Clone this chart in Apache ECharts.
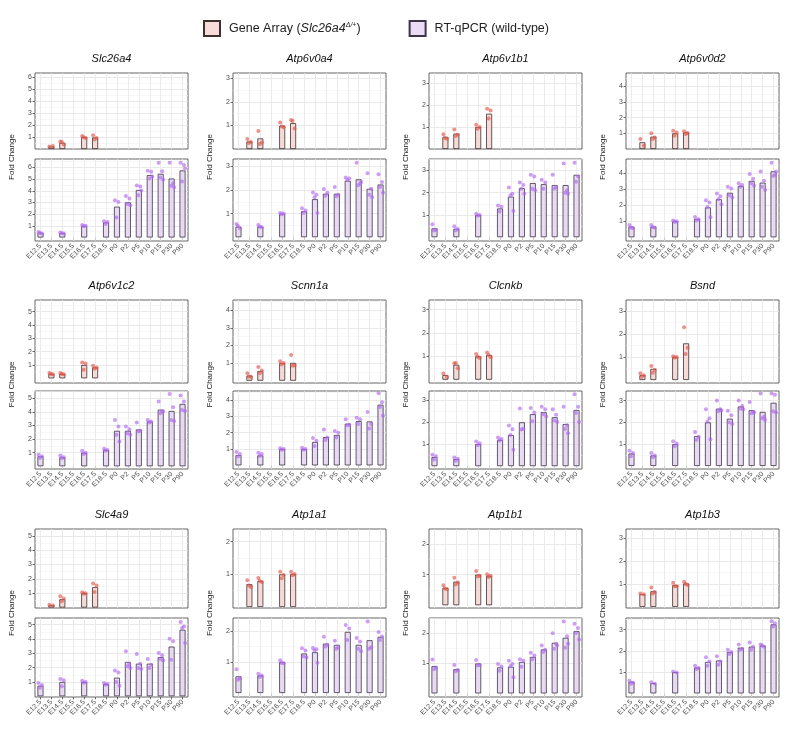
<!DOCTYPE html>
<html><head><meta charset="utf-8">
<script src="https://cdn.jsdelivr.net/npm/echarts@6/dist/echarts.min.js"></script>
<style>html,body{margin:0;padding:0;background:#fff}#c{width:787px;height:735px}</style>
</head><body><div id="c"></div><script>
// ---------- categories ----------
const categories = ['E12.5','E13.5','E14.5','E15.5','E16.5','E17.5','E18.5','P0','P2','P5','P10','P15','P30','P90'];
const gaStages = ['E13.5','E14.5','E16.5','E17.5'];
const qStages = ['E12.5','E14.5','E16.5','E18.5','P0','P2','P5','P10','P15','P30','P90'];
const geneNames = ['Slc26a4','Atp6v0a4','Atp6v1b1','Atp6v0d2','Atp6v1c2','Scnn1a','Clcnkb','Bsnd','Slc4a9','Atp1a1','Atp1b1','Atp1b3'];
// highest labelled y tick per gene
const yTickMax = [6,3,3,4,5,4,3,3,5,2,2,3];
// y-axis limits [min,max] of gene-array panel and RT-qPCR panel
const topLim = [[0,6.37],[0,3.23],[0,3.45],[0,4.85],[-0.35,5.87],[-0.13,4.58],[-0.14,3.41],[-0.13,3.47],[-0.03,5.47],[-0.03,2.39],[-0.09,2.49],[-0.05,3.4]];
const botLim = [[-0.3,6.72],[-0.16,3.31],[-0.17,3.51],[-0.23,4.87],[-0.2,5.54],[-0.22,4.55],[-0.13,3.41],[-0.14,3.44],[-0.05,5.47],[-0.13,2.43],[-0.12,2.52],[-0.17,3.55]];

// ---------- data: Gene Array (gaStages) and RT-qPCR (qStages) ----------
const Slc26a4_gaMean = [0.21,0.52,1.0,0.96];
const Slc26a4_gaPts = [[0.2,0.25],[0.63,0.38,0.58],[1.10,0.92,0.98],[1.15,0.92,0.80]];
const Slc26a4_qMean = [0.40,0.37,1.0,1.29,2.64,3.01,4.07,5.34,5.45,5.05,5.74];
const Slc26a4_qPts = [[0.48,0.34,0.38],[0.43,0.34,0.36],[1.06,1.0,0.96],[1.40,1.32,1.16],[3.18,3.04,1.72],[3.56,3.33,2.87,2.75],[4.45,4.36,3.61,4.02],[5.71,5.63,5.05,5.22],[6.40,5.68,5.14,4.94],[6.40,4.65,4.42,4.31],[6.40,6.20,4.79,5.91]];

const Atp6v0a4_gaMean = [0.32,0.45,0.99,1.10];
const Atp6v0a4_gaPts = [[0.42,0.30,0.25],[0.77,0.28,0.21],[1.13,0.92,0.96],[1.23,0.87,1.19]];
const Atp6v0a4_qMean = [0.45,0.45,1.0,1.10,1.61,1.84,1.84,2.39,2.45,2.05,2.23];
const Atp6v0a4_qPts = [[0.56,0.37,0.47],[0.52,0.42,0.44],[1.03,1.0,0.97],[1.23,1.13,1.03],[1.89,1.80,1.69,1.03],[2.04,1.88,1.76],[2.12,1.80,1.73],[2.53,2.49,2.42],[3.15,2.27,2.20,2.34],[2.71,2.05,1.80,1.69],[2.66,2.34,2.12,1.88]];

const Atp6v1b1_gaMean = [0.55,0.70,1.0,1.60];
const Atp6v1b1_gaPts = [[0.67,0.47,0.50],[0.88,0.65,0.59],[1.10,1.0,0.92],[1.83,1.75,1.38]];
const Atp6v1b1_qMean = [0.40,0.38,1.0,1.29,1.82,2.20,2.43,2.38,2.34,2.34,2.80];
const Atp6v1b1_qPts = [[0.58,0.34,0.30],[0.49,0.37,0.30],[1.05,1.0,0.96],[1.42,1.37,1.15],[2.23,1.95,1.88,1.18],[2.45,2.34,2.18,1.95],[2.80,2.72,2.18,2.11],[2.58,2.46,2.18],[2.80,2.25,2.18],[3.31,2.11,2.0,1.95],[3.34,2.72,2.49]];

const Atp6v0d2_gaMean = [0.43,0.79,1.0,1.06];
const Atp6v0d2_gaPts = [[0.64,0.21],[1.0,0.74,0.64],[1.17,1.06,0.85],[1.13,1.02,0.96]];
const Atp6v0d2_qMean = [0.66,0.66,1.0,1.14,1.86,2.37,2.77,3.19,3.51,3.40,4.10];
const Atp6v0d2_qPts = [[0.76,0.57,0.61],[0.76,0.61,0.62],[1.05,1.0,0.95],[1.27,1.12,1.04],[2.30,2.16,1.88,1.25],[2.73,2.56,2.37,2.05],[3.15,3.04,2.62,2.47],[3.36,3.26,3.15],[3.93,3.64,3.36,3.21],[4.10,3.51,3.15,2.94],[4.63,3.89,3.81,4.10]];

const Atp6v1c2_gaMean = [0.33,0.33,1.0,0.82];
const Atp6v1c2_gaPts = [[0.40,0.30,0.33],[0.40,0.30,0.33],[1.19,1.12,0.65],[0.95,0.82,0.72]];
const Atp6v1c2_qMean = [0.73,0.66,1.0,1.20,2.61,2.61,2.71,3.29,4.17,4.07,4.59];
const Atp6v1c2_qPts = [[0.85,0.73,0.61],[0.80,0.66,0.59],[1.15,1.0,0.9],[1.29,1.20,1.15],[3.41,2.93,2.32,1.83],[2.93,2.73,2.44,2.32],[3.22,2.61,2.56],[3.41,3.29,3.22],[4.76,4.02,3.90,4.05],[5.32,4.35,3.41,3.34],[5.20,4.76,4.15,4.07]];

const Scnn1a_gaMean = [0.29,0.55,1.0,1.01];
const Scnn1a_gaPts = [[0.43,0.23,0.22],[0.78,0.58,0.43],[1.10,1.0,0.92],[1.46,0.88,0.85]];
const Scnn1a_qMean = [0.63,0.61,1.0,1.0,1.43,1.73,1.86,2.55,2.71,2.69,3.71];
const Scnn1a_qPts = [[0.82,0.69,0.55],[0.78,0.69,0.57],[1.05,1.0,0.96],[1.08,1.0,0.95],[1.67,1.51,1.18],[2.20,1.71,1.55],[2.10,2.0,1.71],[2.82,2.49,2.45],[2.92,2.82,2.53],[3.27,2.53,2.25],[4.41,3.86,3.57,3.04]];

const Clcnkb_gaMean = [0.20,0.64,1.0,1.06];
const Clcnkb_gaPts = [[0.27,0.12],[0.71,0.49,0.72],[1.10,0.93,0.98],[1.16,0.96,1.06]];
const Clcnkb_qMean = [0.41,0.32,1.0,1.19,1.41,1.99,2.36,2.45,2.22,1.91,2.55];
const Clcnkb_qPts = [[0.52,0.45,0.30],[0.39,0.33,0.25],[1.12,1.04,0.95],[1.30,1.23,1.16],[1.84,1.67,1.41,0.74],[2.62,1.70,1.66],[2.64,2.43,2.04],[2.70,2.58,2.36,2.25],[2.58,2.33,2.07,2.0],[2.70,1.86,1.68,1.49],[3.26,2.70,2.41,2.0]];

const Bsnd_gaMean = [0.21,0.48,1.0,1.59];
const Bsnd_gaPts = [[0.29,0.21,0.14],[0.61,0.44,0.32],[1.03,1.0,0.97],[2.29,1.40,1.13]];
const Bsnd_qMean = [0.57,0.48,1.0,1.37,2.0,2.63,2.17,2.73,2.56,2.48,2.90];
const Bsnd_qPts = [[0.70,0.60,0.45],[0.60,0.48,0.40],[1.13,1.03,0.9],[1.56,1.34,1.2],[2.60,2.19,2.04,1.22],[3.0,2.60,2.51,2.55],[2.53,2.33,2.0,1.92],[3.0,2.75,2.63,2.6],[2.93,2.48,2.42,2.45],[3.33,2.26,2.19,2.11],[3.33,3.27,2.51,2.45]];

const Slc4a9_gaMean = [0.16,0.58,1.0,1.42];
const Slc4a9_gaPts = [[0.20,0.14],[0.79,0.63,0.44],[1.07,1.0,0.97],[1.68,1.54,1.09]];
const Slc4a9_qMean = [0.74,1.0,1.0,0.86,1.30,2.40,2.28,2.28,2.74,3.47,4.65];
const Slc4a9_qPts = [[0.93,0.79,0.6],[1.21,1.12,0.70],[1.09,1.0,0.95],[0.93,0.86,0.8],[1.81,1.67,1.0,0.74],[3.14,2.26,2.09,1.98],[2.95,2.28,1.98,1.91],[2.60,2.21,1.98],[3.02,2.86,2.60,2.5],[4.02,3.84,2.56],[5.19,4.88,4.77,3.72]];

const Atp1a1_gaMean = [0.70,0.80,1.0,1.01];
const Atp1a1_gaPts = [[0.82,0.61,0.66],[0.89,0.77,0.80],[1.08,0.98,0.88],[1.08,1.01,0.97]];
const Atp1a1_qMean = [0.54,0.57,1.0,1.28,1.32,1.60,1.56,1.98,1.56,1.71,1.82];
const Atp1a1_qPts = [[0.77,0.48,0.43],[0.62,0.57,0.52],[1.06,0.96,0.97],[1.45,1.38,1.19,1.15],[1.46,1.42,1.38,0.98],[1.82,1.56,1.51],[1.69,1.48,1.43],[2.20,2.09,1.72],[1.78,1.67,1.43,1.35],[2.32,1.48,1.43],[1.98,1.83,1.72]];

const Atp1b1_gaMean = [0.57,0.77,1.0,0.96];
const Atp1b1_gaPts = [[0.65,0.52,0.55],[0.90,0.74,0.68],[1.12,0.96,0.94],[1.01,0.96,0.92]];
const Atp1b1_qMean = [0.91,0.81,1.0,0.87,0.89,1.05,1.22,1.47,1.69,1.86,2.08];
const Atp1b1_qPts = [[1.13,0.87,0.81],[0.95,0.78,0.74],[1.12,0.95,0.93],[0.98,0.90,0.76],[1.09,0.98,0.92,0.54],[1.14,1.09,0.89],[1.36,1.27,1.14],[1.60,1.46,1.38],[2.01,1.66,1.49,1.6],[2.40,1.91,1.53,1.66],[2.33,2.19,2.02,1.80]];

const Atp1b3_gaMean = [0.55,0.68,0.95,1.02];
const Atp1b3_gaPts = [[0.58,0.55],[0.85,0.65,0.58],[1.05,0.9,0.9],[1.1,0.95,1.0]];
const Atp1b3_qMean = [0.55,0.48,1.0,1.22,1.48,1.55,1.95,2.15,2.2,2.25,3.25];
const Atp1b3_qPts = [[0.6,0.5,0.45],[0.52,0.45],[1.03,0.98],[1.3,1.2,1.15],[1.7,1.5,1.3],[1.75,1.5,1.35],[2.05,1.95,1.85],[2.3,2.1,2.05],[2.4,2.2,2.05],[2.3,2.2,2.25],[3.4,3.3,3.15]];

const geneData = [
  [Slc26a4_gaMean,Slc26a4_gaPts,Slc26a4_qMean,Slc26a4_qPts],
  [Atp6v0a4_gaMean,Atp6v0a4_gaPts,Atp6v0a4_qMean,Atp6v0a4_qPts],
  [Atp6v1b1_gaMean,Atp6v1b1_gaPts,Atp6v1b1_qMean,Atp6v1b1_qPts],
  [Atp6v0d2_gaMean,Atp6v0d2_gaPts,Atp6v0d2_qMean,Atp6v0d2_qPts],
  [Atp6v1c2_gaMean,Atp6v1c2_gaPts,Atp6v1c2_qMean,Atp6v1c2_qPts],
  [Scnn1a_gaMean,Scnn1a_gaPts,Scnn1a_qMean,Scnn1a_qPts],
  [Clcnkb_gaMean,Clcnkb_gaPts,Clcnkb_qMean,Clcnkb_qPts],
  [Bsnd_gaMean,Bsnd_gaPts,Bsnd_qMean,Bsnd_qPts],
  [Slc4a9_gaMean,Slc4a9_gaPts,Slc4a9_qMean,Slc4a9_qPts],
  [Atp1a1_gaMean,Atp1a1_gaPts,Atp1a1_qMean,Atp1a1_qPts],
  [Atp1b1_gaMean,Atp1b1_gaPts,Atp1b1_qMean,Atp1b1_qPts],
  [Atp1b3_gaMean,Atp1b3_gaPts,Atp1b3_qMean,Atp1b3_qPts]
];

// ---------- layout ----------
const colLeft = [35, 233, 429, 626];
const panelW = 153;
// [topPanelY, topPanelH, bottomPanelY, bottomPanelH] per row
const rowLayout = [[73,76,159,82],[300,83,391,78],[529,79,618,79]];
const jitter = [-2, 1.5, -0.5, 2.5];
const FONT = 'Liberation Sans, Arial, Helvetica, sans-serif';

const grids = [], xAxes = [], yAxes = [], series = [], graphics = [];

function gridLines(lim) {
  const d = [];
  for (let v = 0.5; v < lim[1]; v += 0.5) {
    const major = Math.abs(v - Math.round(v)) < 1e-9;
    d.push({yAxis: v, lineStyle: {color: major ? '#e3e3e3' : '#f1f1f1', width: major ? 0.8 : 0.6, type: 'solid'}});
  }
  categories.forEach(c => d.push({xAxis: c, lineStyle: {color: '#e6e6e6', width: 0.8, type: 'solid'}}));
  return d;
}

geneNames.forEach((gname, gi) => {
  const r = Math.floor(gi / 4), c = gi % 4;
  const L = rowLayout[r];
  const [gaMean, gaPts, qMean, qPts] = geneData[gi];
  const ticks = [];
  for (let t = 1; t <= yTickMax[gi]; t++) ticks.push(t);

  [0, 1].forEach(part => {
    const idx = gi * 2 + part;
    const isBot = part === 1;
    const lim = isBot ? botLim[gi] : topLim[gi];
    grids.push({left: colLeft[c], top: isBot ? L[2] : L[0], width: panelW, height: isBot ? L[3] : L[1],
      show: true, borderColor: '#555', borderWidth: 0.9, backgroundColor: '#fff'});
    xAxes.push({type: 'category', gridIndex: idx, data: categories, boundaryGap: true,
      axisLine: {show: false},
      axisTick: {show: isBot, alignWithLabel: true, length: 3, lineStyle: {color: '#444', width: 0.8}},
      axisLabel: {show: isBot, rotate: 45, interval: 0, fontSize: 7, color: '#4d4d4d', margin: 4, fontFamily: FONT},
      splitLine: {show: false}});
    yAxes.push({type: 'value', gridIndex: idx, min: lim[0], max: lim[1],
      axisLine: {show: false},
      axisTick: {show: true, length: 2.5, customValues: ticks, lineStyle: {color: '#444', width: 0.8}},
      axisLabel: {customValues: ticks, fontSize: 7, color: '#4d4d4d', margin: 3, fontFamily: FONT},
      splitLine: {show: false}});

    const stages = isBot ? qStages : gaStages;
    const means = isBot ? qMean : gaMean;
    const pts = isBot ? qPts : gaPts;
    const barData = categories.map(cat => {
      const k = stages.indexOf(cat);
      return k >= 0 ? means[k] : '-';
    });
    const ptData = [];
    stages.forEach((cat, k) => {
      pts[k].forEach((v, j) => ptData.push({value: [cat, v], symbolOffset: [jitter[j % jitter.length], 0]}));
    });
    // gridlines
    series.push({type: 'line', xAxisIndex: idx, yAxisIndex: idx, data: [], z: 1, silent: true,
      markLine: {silent: true, symbol: ['none', 'none'], label: {show: false}, z: 1, animation: false,
        emphasis: {disabled: true}, data: gridLines(lim)}});
    series.push({type: 'bar', name: isBot ? 'qpcr' : 'ga', xAxisIndex: idx, yAxisIndex: idx, data: barData,
      barWidth: 6, z: 3, silent: true,
      itemStyle: isBot
        ? {color: 'rgba(226,208,240,0.75)', borderColor: '#3d3448', borderWidth: 0.8}
        : {color: 'rgba(246,208,204,0.75)', borderColor: '#3f3030', borderWidth: 0.8}});
    series.push({type: 'scatter', name: isBot ? 'qpcr_pts' : 'ga_pts', xAxisIndex: idx, yAxisIndex: idx, data: ptData,
      symbolSize: 4, z: 4, silent: true,
      itemStyle: {color: isBot ? 'rgba(176,104,238,0.8)' : 'rgba(226,84,72,0.8)'}});
  });

  graphics.push({type: 'text', x: colLeft[c] + panelW / 2, y: L[0] - 14,
    style: {text: gname, font: 'italic 11px ' + FONT, fill: '#111', align: 'center', verticalAlign: 'middle'}});
  graphics.push({type: 'text', x: colLeft[c] - 23, y: (L[0] + L[2] + L[3]) / 2, rotation: Math.PI / 2,
    style: {text: 'Fold Change', font: '8px ' + FONT, fill: '#222', align: 'center', verticalAlign: 'middle'}});
});

const chart = echarts.init(document.getElementById('c'), null, {renderer: 'canvas'});
chart.setOption({
  animation: false,
  backgroundColor: '#fff',
  textStyle: {fontFamily: FONT},
  legend: {data: ['ga', 'qpcr'], left: 198, top: 15, itemWidth: 16, itemHeight: 15, itemGap: 48, icon: 'rect',
    selectedMode: false,
    formatter: n => n === 'ga' ? 'Gene Array ({it|Slc26a4}{sup|Δ/+})' : 'RT-qPCR (wild-type)',
    textStyle: {fontSize: 12.5, color: '#222', padding: [0, 0, 0, 4],
      rich: {it: {fontStyle: 'italic', fontSize: 12.5, color: '#222'},
             sup: {fontStyle: 'italic', fontSize: 7, color: '#222', verticalAlign: 'top', padding: [0, 0, 6, 0]}}}},
  grid: grids, xAxis: xAxes, yAxis: yAxes, series: series, graphic: graphics
});
</script></body></html>
